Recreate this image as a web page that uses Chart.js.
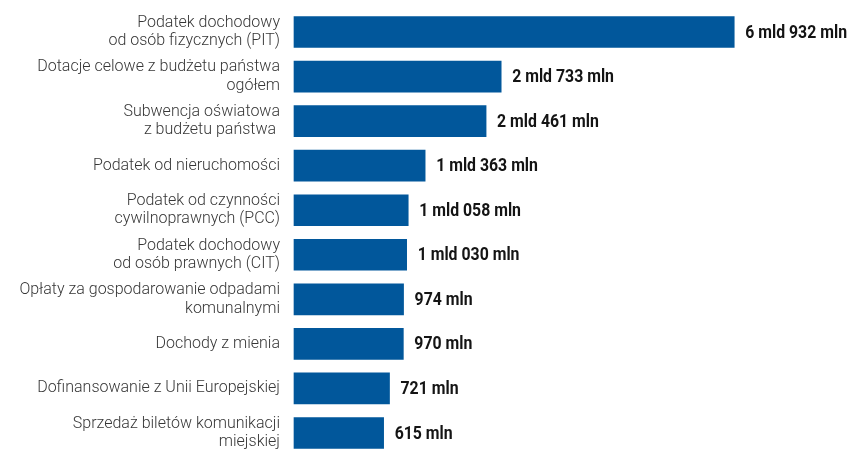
<!DOCTYPE html>
<html lang="pl">
<head>
<meta charset="utf-8">
<title>Dochody</title>
<script src="https://cdn.jsdelivr.net/npm/chart.js@4/dist/chart.umd.min.js"></script>
<style>
  html, body { margin: 0; padding: 0; background: #fff; }
  #wrap { width: 851px; height: 451px; position: relative; }
</style>
</head>
<body>
<div id="wrap"><canvas id="incomeChart"></canvas></div>
<script>
const categories = [
  ["Podatek dochodowy", "od osób fizycznych (PIT)"],
  ["Dotacje celowe z budżetu państwa", "ogółem"],
  ["Subwencja oświatowa", "z budżetu państwa "],
  "Podatek od nieruchomości",
  ["Podatek od czynności", "cywilnoprawnych (PCC)"],
  ["Podatek dochodowy", "od osób prawnych (CIT)"],
  ["Opłaty za gospodarowanie odpadami", "komunalnymi"],
  "Dochody z mienia",
  "Dofinansowanie z Unii Europejskiej",
  ["Sprzedaż biletów komunikacji", "miejskiej"]
];

// mln zł
const values = [6932, 2733, 2461, 1363, 1058, 1030, 974, 970, 721, 615];

const valueLabels = [
  "6 mld 932 mln", "2 mld 733 mln", "2 mld 461 mln", "1 mld 363 mln",
  "1 mld 058 mln", "1 mld 030 mln", "974 mln", "970 mln", "721 mln", "615 mln"
];

const axisMin = -1000;
const axisMax = 9000;

// napisy z wartościami na końcu słupków (lekko zwężone)
const valueLabelPlugin = {
  id: "valueLabels",
  afterDatasetsDraw(chart) {
    const ctx = chart.ctx;
    const meta = chart.getDatasetMeta(0);
    meta.data.forEach((bar, i) => {
      ctx.save();
      ctx.translate(bar.x + 11, bar.y + 1);
      ctx.scale(0.88, 1);
      ctx.font = "bold 18px Roboto";
      ctx.fillStyle = "#141414";
      ctx.textAlign = "left";
      ctx.textBaseline = "middle";
      ctx.fillText(valueLabels[i], 0, 0);
      ctx.restore();
    });
  }
};

new Chart(document.getElementById("incomeChart").getContext("2d"), {
  type: "bar",
  data: {
    labels: categories,
    datasets: [{
      data: values,
      base: axisMin,
      backgroundColor: "#01579b",
      barThickness: 31,
      clip: false
    }]
  },
  options: {
    indexAxis: "y",
    responsive: true,
    maintainAspectRatio: false,
    animation: false,
    devicePixelRatio: 1,
    layout: { padding: { top: 32, bottom: 18, right: 2, left: 0 } },
    plugins: {
      legend: { display: false },
      tooltip: { enabled: false }
    },
    scales: {
      x: {
        display: false,
        min: axisMin,
        max: axisMax
      },
      y: {
        offset: false,
        grid: { display: false, drawTicks: false },
        border: { display: false },
        afterFit: scale => {
          scale.width = 294;
          scale.paddingTop = 0;
          scale.paddingBottom = 0;
        },
        ticks: {
          padding: 14,
          color: "#363636",
          font: { family: "Roboto", size: 16, weight: 300, lineHeight: 1.15 }
        }
      }
    }
  },
  plugins: [valueLabelPlugin]
});
</script>
</body>
</html>
